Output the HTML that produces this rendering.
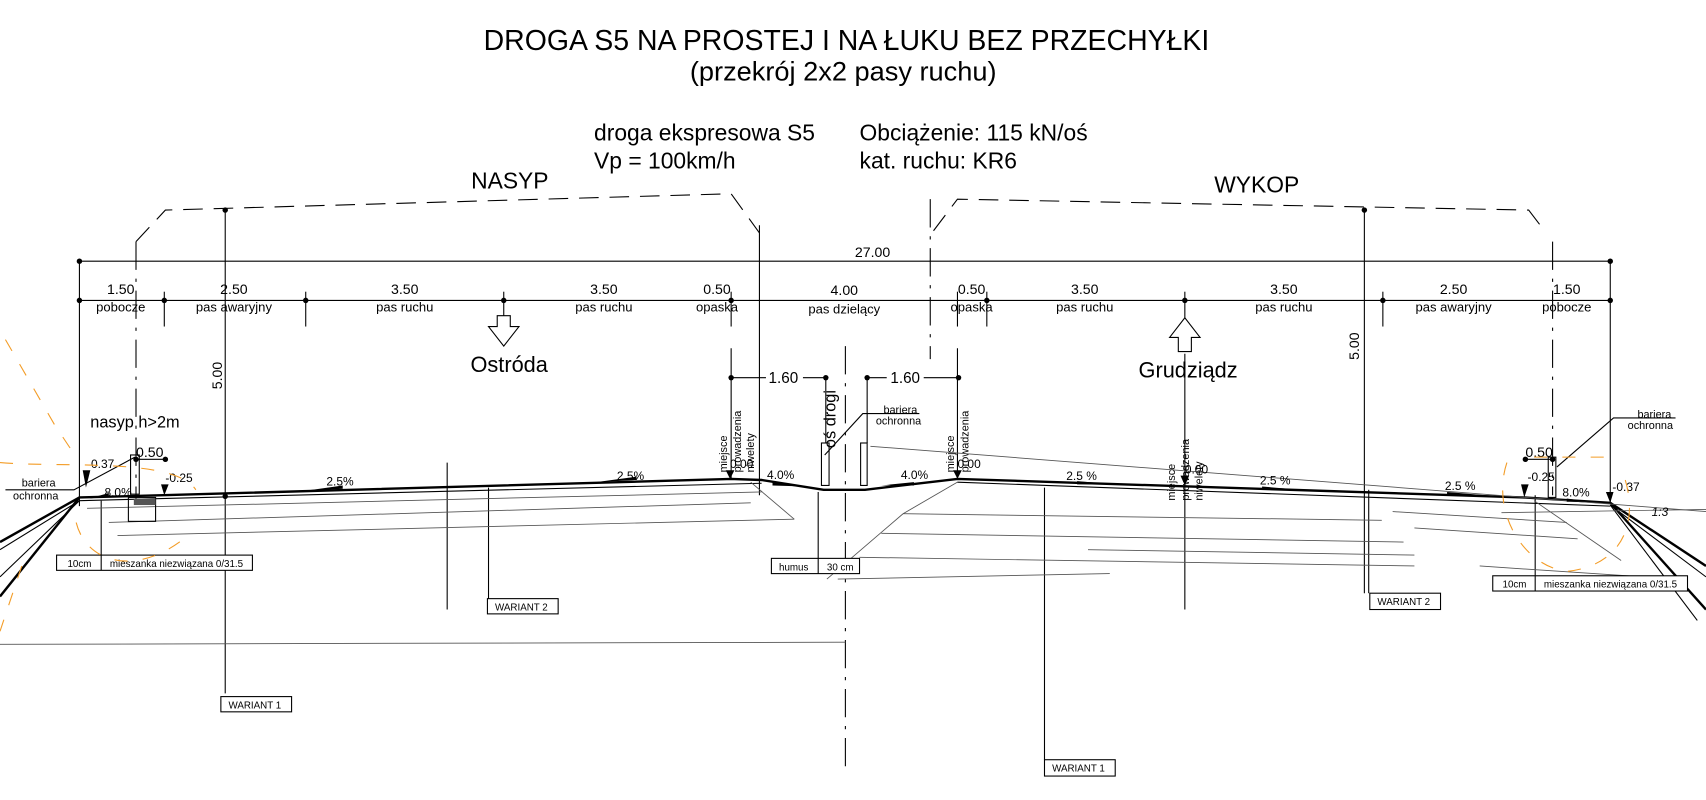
<!DOCTYPE html>
<html><head><meta charset="utf-8"><style>
html,body{margin:0;padding:0;background:#fff;}
svg{display:block;font-family:"Liberation Sans",Arial,sans-serif;}
</style></head><body>
<svg width="1706" height="800" viewBox="0 0 1568 735" preserveAspectRatio="none" xmlns="http://www.w3.org/2000/svg">
<rect width="1568" height="735" fill="#fff"/>
<g fill="#000" text-anchor="middle">
<text x="778" y="46" font-size="26" textLength="667" lengthAdjust="spacingAndGlyphs">DROGA S5 NA PROSTEJ I NA ŁUKU BEZ PRZECHYŁKI</text>
<text x="775" y="74" font-size="25">(przekrój 2x2 pasy ruchu)</text>
</g>
<g font-size="21">
<text x="546" y="129">droga ekspresowa S5</text>
<text x="546" y="155">Vp = 100km/h</text>
<text x="790" y="129">Obciążenie: 115 kN/oś</text>
<text x="790" y="155">kat. ruchu: KR6</text>
<text x="433" y="173" font-size="21">NASYP</text>
<text x="1116" y="177" font-size="21">WYKOP</text>
</g>
<g fill="none" stroke="#000" stroke-width="1" stroke-dasharray="18,10">
<polyline points="125,222 152,193 672,178 698,214"/>
<polyline points="858,212 880,183 1405,193 1421,214"/>
</g>
<g stroke="#000" stroke-width="1" fill="none">
<line x1="73" y1="240" x2="1480" y2="240"/>
<line x1="73" y1="276" x2="1480" y2="276"/>
<line x1="73" y1="240" x2="73" y2="465"/>
<line x1="1480" y1="240" x2="1480" y2="462"/>
<line x1="207" y1="193" x2="207" y2="637"/>
<line x1="1254" y1="193" x2="1254" y2="545"/>
<line x1="151" y1="268" x2="151" y2="300"/>
<line x1="281" y1="268" x2="281" y2="300"/>
<line x1="463" y1="268" x2="463" y2="290"/>
<line x1="672" y1="268" x2="672" y2="300"/>
<line x1="698" y1="207" x2="698" y2="455"/>
<line x1="880" y1="268" x2="880" y2="300"/>
<line x1="907" y1="268" x2="907" y2="300"/>
<line x1="1089" y1="268" x2="1089" y2="292"/>
<line x1="1271" y1="268" x2="1271" y2="300"/>
<line x1="672" y1="320" x2="672" y2="440"/>
<line x1="880" y1="320" x2="880" y2="440"/>
<line x1="672" y1="347" x2="704" y2="347"/><line x1="738" y1="347" x2="759" y2="347"/>
<line x1="797" y1="347" x2="815" y2="347"/><line x1="849" y1="347" x2="881" y2="347"/>
<line x1="759" y1="347" x2="759" y2="407"/><line x1="797" y1="347" x2="797" y2="407"/>
<line x1="1089" y1="325" x2="1089" y2="560"/>
<line x1="411" y1="425" x2="411" y2="560"/>
<line x1="449" y1="448" x2="449" y2="550"/>
<line x1="960" y1="448" x2="960" y2="698"/>
<line x1="1258" y1="450" x2="1258" y2="545"/>
<line x1="93" y1="460" x2="93" y2="510"/>
<line x1="1411" y1="455" x2="1411" y2="529"/>
<line x1="752" y1="452" x2="752" y2="513"/>
</g>
<g stroke="#000" stroke-width="1" fill="none" stroke-dasharray="26,8,3,8">
<line x1="125" y1="222" x2="125" y2="460"/>
<line x1="1427" y1="222" x2="1427" y2="455"/>
<line x1="855" y1="183" x2="855" y2="330"/>
<line x1="777" y1="318" x2="777" y2="705"/>
</g>
<g fill="#000">
<circle cx="73" cy="240" r="2.5"/><circle cx="1480" cy="240" r="2.5"/>
<circle cx="73" cy="276" r="2.5"/><circle cx="151" cy="276" r="2.5"/><circle cx="281" cy="276" r="2.5"/><circle cx="463" cy="276" r="2.5"/><circle cx="672" cy="276" r="2.5"/><circle cx="907" cy="276" r="2.5"/><circle cx="1089" cy="276" r="2.5"/><circle cx="1271" cy="276" r="2.5"/><circle cx="1480" cy="276" r="2.5"/>
<circle cx="207" cy="193" r="2.5"/><circle cx="1254" cy="193" r="2.5"/>
<circle cx="672" cy="347" r="2.5"/><circle cx="759" cy="347" r="2.5"/><circle cx="797" cy="347" r="2.5"/><circle cx="881" cy="347" r="2.5"/>
<circle cx="207" cy="456" r="2.5"/><circle cx="125" cy="422" r="2.5"/><circle cx="152" cy="422" r="2.5"/>
<circle cx="1402" cy="422" r="2.5"/><circle cx="1427" cy="422" r="2.5"/>
</g>
<g font-size="13" text-anchor="middle">
<text x="802" y="236">27.00</text>
<text x="111" y="270">1.50</text><text x="215" y="270">2.50</text><text x="372" y="270">3.50</text><text x="555" y="270">3.50</text><text x="659" y="270">0.50</text><text x="776" y="271">4.00</text><text x="893" y="270">0.50</text><text x="997" y="270">3.50</text><text x="1180" y="270">3.50</text><text x="1336" y="270">2.50</text><text x="1440" y="270">1.50</text>
<text x="111" y="286" font-size="12">pobocze</text><text x="215" y="286" font-size="12">pas awaryjny</text><text x="372" y="286" font-size="12">pas ruchu</text><text x="555" y="286" font-size="12">pas ruchu</text><text x="659" y="286" font-size="12">opaska</text><text x="776" y="288" font-size="12">pas dzielący</text><text x="893" y="286" font-size="12">opaska</text><text x="997" y="286" font-size="12">pas ruchu</text><text x="1180" y="286" font-size="12">pas ruchu</text><text x="1336" y="286" font-size="12">pas awaryjny</text><text x="1440" y="286" font-size="12">pobocze</text>
<text x="720" y="352" font-size="14">1.60</text><text x="832" y="352" font-size="14">1.60</text>
</g>
<text x="468" y="342" font-size="20" text-anchor="middle">Ostróda</text>
<text x="1092" y="347" font-size="20" text-anchor="middle">Grudziądz</text>
<path d="M457,290 L469,290 L469,300 L477,300 L463,318 L449,300 L457,300 Z" fill="#fff" stroke="#000"/>
<path d="M1083,323 L1095,323 L1095,310 L1103,310 L1089,292 L1075,310 L1083,310 Z" fill="#fff" stroke="#000"/>
<text transform="translate(204,345) rotate(-90)" font-size="13" text-anchor="middle">5.00</text>
<text transform="translate(1249,318) rotate(-90)" font-size="13" text-anchor="middle">5.00</text>
<text transform="translate(768,385) rotate(-90)" font-size="15" text-anchor="middle">oś drogi</text>
<g font-size="10">
<text transform="translate(668,434) rotate(-90)">miejsce</text>
<text transform="translate(681,434) rotate(-90)">prowadzenia</text>
<text transform="translate(693,434) rotate(-90)">niwelety</text>
<text transform="translate(877,434) rotate(-90)">miejsce</text>
<text transform="translate(890,434) rotate(-90)">prowadzenia</text>
<text transform="translate(1080,460) rotate(-90)">miejsce</text>
<text transform="translate(1093,460) rotate(-90)">prowadzenia</text>
<text transform="translate(1105,460) rotate(-90)">niwelety</text>
<text x="20" y="447">bariera</text><text x="12" y="459">ochronna</text>
<text x="812" y="380">bariera</text><text x="805" y="390">ochronna</text>
<text x="1505" y="384">bariera</text><text x="1496" y="394">ochronna</text>
</g>
<text x="83" y="393" font-size="15">nasyp h&gt;2m</text>
<g fill="none" stroke="#000">
<polyline stroke-width="2.2" points="73,457 150,455 672,440 700,441 757,450 795,450 880,440 1400,457 1480,462"/>
<polyline stroke-width="2.2" points="73,457 0,498"/><polyline stroke-width="2.2" points="73,457 0,548"/>
<polyline stroke-width="1" points="73,460 0,505"/><polyline stroke-width="1" points="73,460 0,530"/>
<polyline stroke-width="2.2" points="1480,462 1568,520"/><polyline stroke-width="2.2" points="1480,462 1568,560"/>
<polyline stroke-width="1" points="1480,464 1568,530"/><polyline stroke-width="1" points="1480,464 1560,570"/>
<polyline stroke-width="1" points="73,460 700,444"/>
<polyline stroke-width="1" points="880,443 1480,465"/>
</g>
<g fill="none" stroke="#555" stroke-width="0.8">
<line x1="80" y1="467" x2="700" y2="452"/>
<line x1="100" y1="480" x2="690" y2="462"/>
<line x1="108" y1="492" x2="730" y2="477"/>
<line x1="730" y1="477" x2="690" y2="443"/>
<line x1="0" y1="592" x2="777" y2="590"/>
<line x1="880" y1="443" x2="830" y2="472"/>
<line x1="830" y1="472" x2="1270" y2="478"/>
<line x1="810" y1="490" x2="1290" y2="498"/>
<line x1="790" y1="512" x2="1300" y2="520"/>
<line x1="770" y1="532" x2="1020" y2="527"/>
<line x1="830" y1="472" x2="760" y2="532"/>
<line x1="1000" y1="505" x2="1300" y2="510"/>
<line x1="1280" y1="470" x2="1440" y2="480"/>
<line x1="1300" y1="485" x2="1450" y2="495"/>
<line x1="1360" y1="520" x2="1510" y2="530"/>
<line x1="1410" y1="460" x2="1490" y2="515"/>
<line x1="800" y1="410" x2="1568" y2="470"/>
<line x1="1380" y1="471" x2="1568" y2="468"/>
</g>
<g fill="#000">
<path d="M667,432 L675,432 L671,440 Z"/><path d="M876,432 L884,432 L880,440 Z"/><path d="M1085,437 L1093,437 L1089,446 Z"/>
<path d="M76,432 L83,432 L79,448 Z"/><path d="M148,445 L155,445 L151,455 Z"/>
<path d="M1398,445 L1405,445 L1401,457 Z"/><path d="M1476,452 L1483,452 L1480,462 Z"/>
<path d="M280,451 L315,446 L315,449 Z"/><path d="M548,443 L585,438 L585,441 Z"/>
<path d="M710,443 L740,447 L710,446 Z"/><path d="M810,446 L840,443 L840,446 Z"/>
<path d="M990,442 L1025,445 L990,445 Z"/><path d="M1160,447 L1195,450 L1160,450 Z"/>
<path d="M1330,452 L1365,455 L1330,455 Z"/><path d="M82,458 L100,453 L100,456 Z"/><path d="M1440,458 L1460,461 L1440,461 Z"/>
</g>
<g font-size="11">
<text x="671" y="430">0.00</text><text x="880" y="430">0.00</text><text x="1089" y="435">0.00</text>
<text x="80" y="430">-0.37</text><text x="152" y="443">-0.25</text><text x="125" y="420" font-size="13">0.50</text>
<text x="1402" y="420" font-size="13">0.50</text><text x="1404" y="442">-0.25</text><text x="1482" y="451">-0.37</text>
<text x="300" y="446">2.5%</text><text x="567" y="441">2.5%</text><text x="705" y="440">4.0%</text><text x="828" y="440">4.0%</text>
<text x="980" y="441">2.5 %</text><text x="1158" y="445">2.5 %</text><text x="1328" y="450">2.5 %</text>
<text x="96" y="456">8.0%</text><text x="1436" y="456">8.0%</text><text x="1518" y="474" font-style="italic">1:3</text>
</g>
<g fill="none" stroke="#000" stroke-width="1">
<polyline points="5,450 68,450 124,420"/>
<polyline points="845,380 793,380 758,418"/>
<polyline points="1540,384 1483,384 1431,429"/>
<rect x="755" y="407" width="7" height="39"/><rect x="791" y="407" width="6" height="39"/>
<rect x="118" y="457" width="25" height="22"/><rect x="120" y="418" width="8" height="36"/>
<rect x="1423" y="420" width="7" height="37"/>
<line x1="125" y1="422" x2="152" y2="422"/><line x1="1402" y1="422" x2="1427" y2="422"/>
</g>
<rect x="123" y="458" width="20" height="6" fill="#555"/>
<g fill="#fff" stroke="#000" stroke-width="1">
<rect x="52" y="510" width="180" height="14"/><line x1="93" y1="510" x2="93" y2="524"/>
<rect x="1372" y="529" width="179" height="14"/><line x1="1411" y1="529" x2="1411" y2="543"/>
<rect x="709" y="513" width="81" height="14"/><line x1="752" y1="513" x2="752" y2="527"/>
<rect x="448" y="550" width="65" height="14"/><rect x="203" y="640" width="65" height="14"/>
<rect x="1259" y="545" width="65" height="15"/><rect x="960" y="698" width="65" height="15"/>
</g>
<g font-size="9">
<text x="62" y="521">10cm</text><text x="101" y="521">mieszanka niezwiązana 0/31.5</text>
<text x="1381" y="540">10cm</text><text x="1419" y="540">mieszanka niezwiązana 0/31.5</text>
<text x="716" y="524">humus</text><text x="760" y="524">30 cm</text>
<text x="455" y="561">WARIANT 2</text><text x="210" y="651">WARIANT 1</text>
<text x="1266" y="556">WARIANT 2</text><text x="967" y="709">WARIANT 1</text>
</g>
<g fill="none" stroke="#f39c26" stroke-width="1" stroke-dasharray="12,14">
<path d="M5,312 L50,390 L70,420"/>
<path d="M0,425 C60,430 160,420 180,450"/>
<path d="M70,480 C80,520 130,530 175,490"/>
<path d="M20,520 L0,580"/>
<path d="M1385,425 C1370,470 1400,520 1440,525 C1490,520 1510,480 1490,430"/>
<path d="M1410,420 L1480,420"/>
</g>
</svg>
</body></html>
